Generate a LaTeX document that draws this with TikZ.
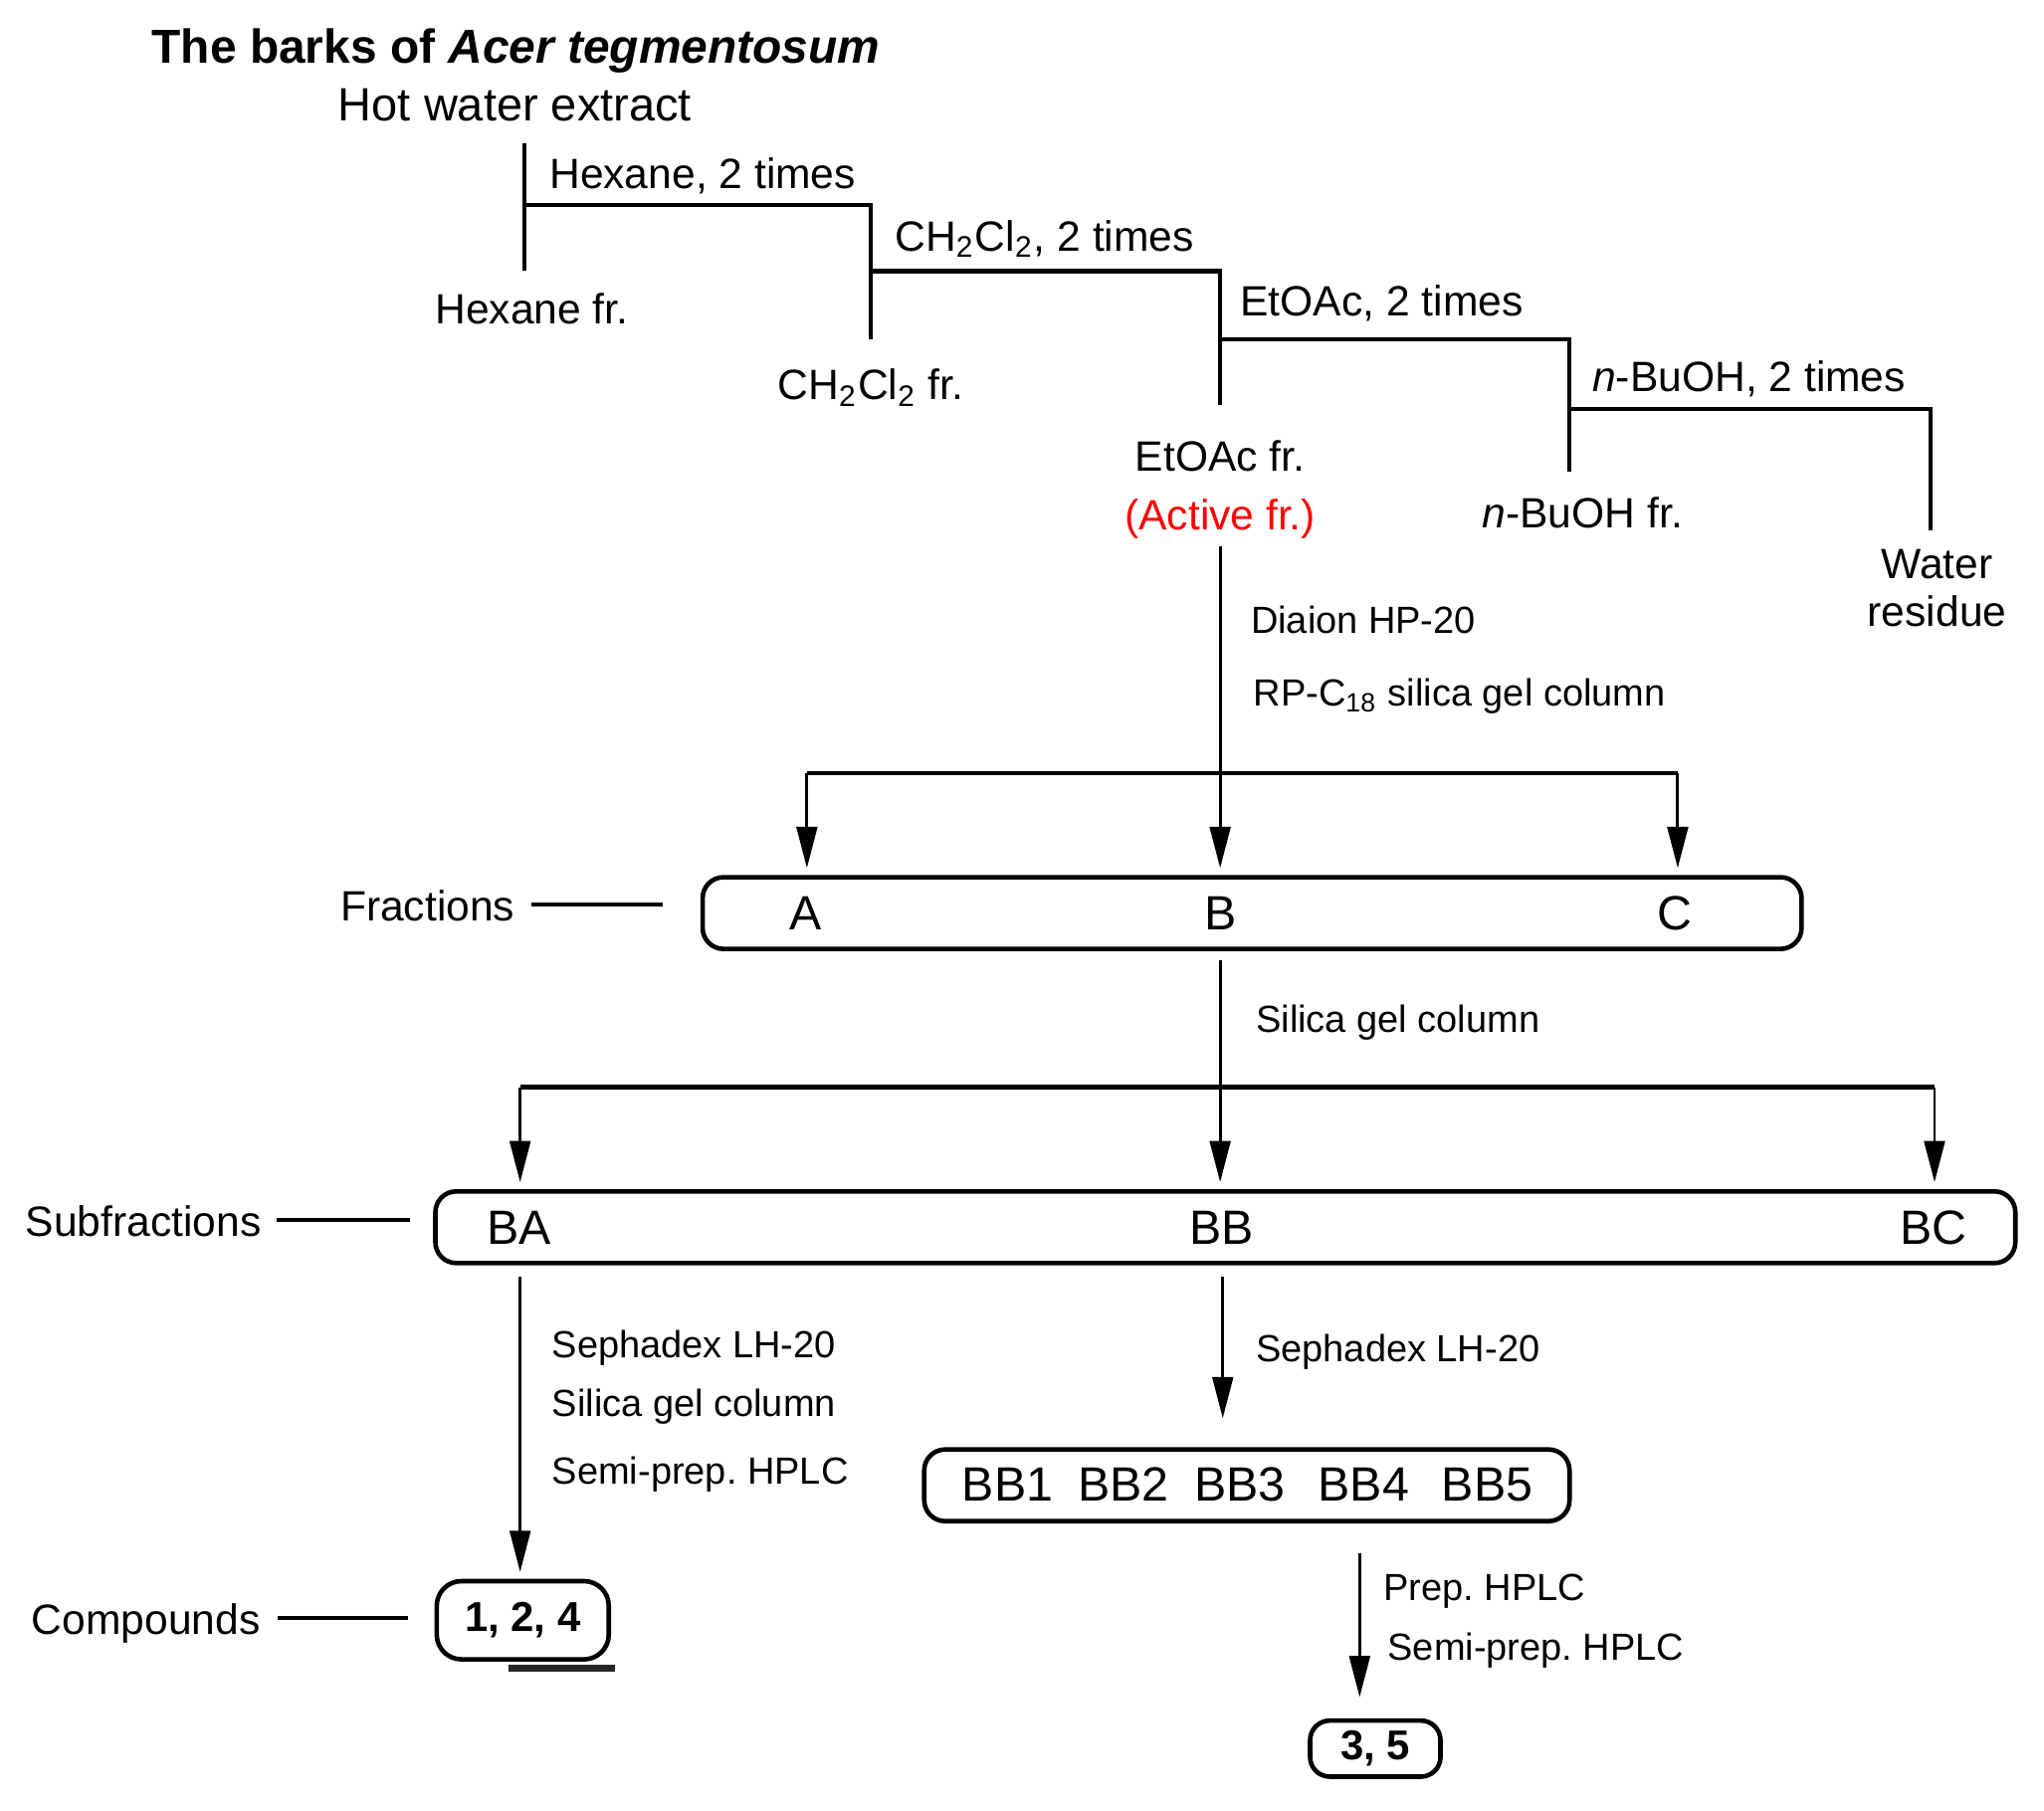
\documentclass[tikz,border=0pt]{standalone}
\usepackage{fontspec}
\setmainfont{Liberation Sans}
\usetikzlibrary{arrows.meta}
\frenchspacing

\begin{document}
\begin{tikzpicture}[
    line width=0.9pt,
    txt/.style={inner sep=0pt, text height=0.72em, text depth=0pt},
    lbl/.style={txt, font=\fontsize{9.25}{11}\selectfont},
    note/.style={txt, anchor=west, font=\fontsize{8.25}{10}\selectfont},
    frname/.style={txt, font=\fontsize{10.5}{12}\selectfont},
    rbox/.style={draw, line width=1.0pt, rounded corners=0.16cm, inner sep=0pt},
    cmpd/.style={rbox, rounded corners=0.19cm, font=\bfseries\fontsize{9.1}{11}\selectfont},
    arr/.style={line width=0.65pt, -{Triangle[length=9pt,width=4.5pt]}}
    ]
    \useasboundingbox (0,0) rectangle (15.68,-13.89);
    %% extraction
    \node[anchor=west, inner sep=0pt, font=\bfseries\fontsize{10.4}{12}\selectfont] (title) at (1.15,-0.39) {The barks of \textit{Acer tegmentosum}};
    \node[txt, font=\fontsize{10.2}{12}\selectfont] (hot) at (3.95,-0.80) {Hot water extract};
    \node[lbl, anchor=west] (hexsol) at (4.20,-1.32) {Hexane, 2 times};
    \node[lbl, anchor=west] (chsol) at (6.85,-1.80) {CH\textsubscript{2}Cl\textsubscript{2}, 2 times};
    \node[lbl, anchor=west] (etsol) at (9.50,-2.30) {EtOAc, 2 times};
    \node[lbl, anchor=west] (busol) at (12.20,-2.88) {\textit{n}-BuOH, 2 times};
    \node[lbl] (hexfr) at (4.08,-2.36) {Hexane fr.};
    \node[lbl] (chfr) at (6.68,-2.94) {CH\textsubscript{2}Cl\textsubscript{2} fr.};
    \node[lbl] (etfr) at (9.36,-3.49) {EtOAc fr.};
    \node[lbl, text=red] (active) at (9.36,-3.94) {(Active fr.)};
    \node[lbl] (bufr) at (12.14,-3.92) {\textit{n}-BuOH fr.};
    \node[inner sep=0pt, align=center, font=\fontsize{9.25}{10.5}\selectfont] (water) at (14.86,-4.51) {Water\\residue};
    \coordinate (x0) at (4.02,-1.10);
    \coordinate (x1) at (4.02,-2.08);
    \coordinate (k1) at (4.02,-1.57);
    \coordinate (e1) at (6.68,-2.60);
    \coordinate (k2) at (6.68,-2.08);
    \coordinate (e2) at (9.36,-3.11);
    \coordinate (k3) at (9.36,-2.60);
    \coordinate (e3) at (12.04,-3.62);
    \coordinate (k4) at (12.04,-3.14);
    \coordinate (e4) at (14.81,-4.07);
    \draw (x0) -- (x1);
    \draw (k1) -| (e1);
    \draw (k2) -| (e2);
    \draw (k3) -| (e3);
    \draw (k4) -| (e4);
    \node[note] (diaion) at (9.58,-4.73) {Diaion HP-20};
    \node[note] (rpc) at (9.60,-5.29) {RP-C\textsubscript{18} silica gel column};
    %% fractions
    \node[rbox, minimum width=8.43cm, minimum height=0.55cm] (frbox) at (9.605,-7.005) {};
    \node[frname] (A) at (6.18,-7.01) {A};
    \node[frname] (B) at (9.36,-7.01) {B};
    \node[frname] (C) at (12.85,-7.01) {C};
    \node[lbl] (fraclab) at (3.28,-6.94) {Fractions};
    \draw ([xshift=0.11cm]fraclab.east) -- ([xshift=-0.29cm]fraclab.east -| frbox.west);
    \coordinate (bl) at (6.19,-5.93);
    \coordinate (br) at (12.87,-5.93);
    \draw (bl) -- (br);
    \draw[arr] ([yshift=-0.11cm]active.south) -- ([yshift=1.5pt]frbox.north -| active);
    \draw[arr] (bl) -- ([yshift=1.5pt]frbox.north -| bl);
    \draw[arr] (br) -- ([yshift=1.5pt]frbox.north -| br);
    \node[note] (silica) at (9.62,-7.79) {Silica gel column};
    %% subfractions
    \node[rbox, minimum width=12.12cm, minimum height=0.55cm] (subbox) at (9.40,-9.415) {};
    \node[frname] (BA) at (3.98,-9.42) {BA};
    \node[frname] (BB) at (9.37,-9.42) {BB};
    \node[frname] (BC) at (14.83,-9.42) {BC};
    \node[lbl] (sublab) at (1.10,-9.36) {Subfractions};
    \draw ([xshift=0.10cm]sublab.east) -- ([xshift=-0.18cm]sublab.east -| subbox.west);
    \coordinate (sl) at (3.99,-8.34);
    \coordinate (sr) at (14.84,-8.34);
    \draw (sl) -- (sr);
    \draw[arr] ([yshift=-0.07cm]frbox.south -| B) -- ([yshift=1.5pt]subbox.north -| B);
    \draw[arr] (sl) -- ([yshift=1.5pt]subbox.north -| sl);
    \draw[arr] (sr) -- ([yshift=1.5pt]subbox.north -| sr);
    %% subfraction BA
    \node[note] (sepha) at (4.22,-10.29) {Sephadex LH-20};
    \node[note] (silicb) at (4.22,-10.74) {Silica gel column};
    \node[note] (semia) at (4.22,-11.26) {Semi-prep. HPLC};
    \node[cmpd, minimum width=1.32cm, minimum height=0.60cm] (cmpda) at (4.01,-12.43) {1, 2, 4};
    \node[lbl] (cmplab) at (1.12,-12.41) {Compounds};
    \draw ([xshift=0.12cm]cmplab.east) -- ([xshift=-0.20cm]cmplab.east -| cmpda.west);
    \draw[arr] ([yshift=-0.09cm]subbox.south -| sl) -- ([yshift=1.5pt]cmpda.north -| sl);
    \coordinate (ua) at (3.90,-12.80);
    \coordinate (ub) at (4.72,-12.80);
    \draw[line width=1.6pt, black!85] (ua) -- (ub);
    %% subfraction BB
    \node[note] (sephb) at (9.62,-10.32) {Sephadex LH-20};
    \node[rbox, minimum width=4.95cm, minimum height=0.55cm] (bbbox) at (9.565,-11.395) {};
    \foreach \x/\n in {7.73/1, 8.62/2, 9.51/3, 10.46/4, 11.41/5}
        \node[frname] (BB\n) at (\x,-11.39) {BB\n};
    \coordinate (bbend) at (9.38,-10.88);
    \draw[arr] ([yshift=-0.09cm]subbox.south -| bbend) -- (bbend);
    \node[note] (prep) at (10.60,-12.15) {Prep. HPLC};
    \node[note] (semib) at (10.63,-12.61) {Semi-prep. HPLC};
    \node[cmpd, rounded corners=0.15cm, minimum width=1.00cm, minimum height=0.43cm] (cmpdb) at (10.55,-13.415) {3, 5};
    \coordinate (cbend) at (10.43,-13.02);
    \draw[arr] ([yshift=-0.23cm]bbbox.south -| cbend) -- (cbend);
\end{tikzpicture}
\end{document}
